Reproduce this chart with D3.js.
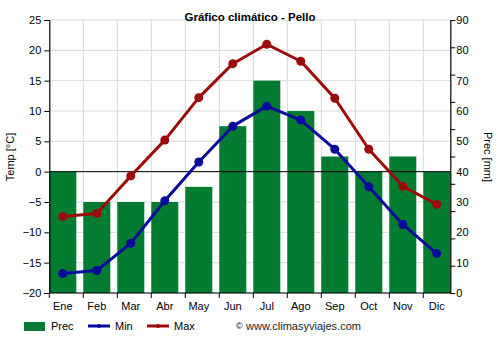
<!DOCTYPE html>
<html>
<head>
<meta charset="utf-8">
<script src="https://cdn.jsdelivr.net/npm/d3@7"></script>
<style>
  body { margin: 0; background: #fff; }
  svg { display: block; font-family: "Liberation Sans", Arial, sans-serif; }
</style>
</head>
<body>
<svg id="chart" width="500" height="350"></svg>
<script>
// Monthly climate data for Pello
const months = ["Ene","Feb","Mar","Abr","May","Jun","Jul","Ago","Sep","Oct","Nov","Dic"];
const precip = [40, 30, 30, 30, 35, 55, 70, 60, 45, 40, 45, 40];
const tempMin = [-16.8, -16.3, -11.8, -4.8, 1.6, 7.5, 10.8, 8.5, 3.7, -2.5, -8.7, -13.5];
const tempMax = [-7.4, -6.9, -0.7, 5.2, 12.2, 17.8, 21.0, 18.2, 12.1, 3.7, -2.4, -5.4];
const tempTicks = [-20, -15, -10, -5, 0, 5, 10, 15, 20, 25];
const precTicks = [0, 10, 20, 30, 40, 50, 60, 70, 80, 90];

const svg = d3.select("#chart");
const plotL = 49.3, plotR = 450.3, plotT = 20, plotB = 293;

const x = d3.scaleBand().domain(months).range([plotL, plotL + 12 * 34]).padding(0);
const barW = 27;
const cx = m => x(m) + barW / 2;
const yT = d3.scaleLinear().domain([-20, 25]).range([plotB, plotT]);
const yP = d3.scaleLinear().domain([0, 90]).range([plotB, plotT]);

const colPrec = "#037b30", colMin = "#0a0a9c", colMax = "#9c0a0a", grid = "#d9d9d9";

// grid
const g = svg.append("g");
g.selectAll("line.h").data(tempTicks).join("line")
  .attr("x1", plotL).attr("x2", plotR)
  .attr("y1", d => yT(d)).attr("y2", d => yT(d))
  .attr("stroke", grid).attr("stroke-width", 1);
g.selectAll("line.v").data(months.slice(1)).join("line")
  .attr("x1", d => x(d)).attr("x2", d => x(d))
  .attr("y1", plotT).attr("y2", plotB)
  .attr("stroke", grid).attr("stroke-width", 1);

// precipitation bars
svg.append("g").selectAll("rect").data(months).join("rect")
  .attr("x", m => x(m)).attr("width", barW)
  .attr("y", (m, i) => yP(precip[i]))
  .attr("height", (m, i) => plotB - yP(precip[i]))
  .attr("fill", colPrec);

// zero line
svg.append("line").attr("x1", plotL).attr("x2", plotR)
  .attr("y1", yT(0)).attr("y2", yT(0)).attr("stroke", "#000").attr("stroke-width", 1);

// temperature lines
function series(vals, color) {
  const line = d3.line().x((d, i) => cx(months[i])).y(d => yT(d));
  svg.append("path").datum(vals).attr("d", line)
    .attr("fill", "none").attr("stroke", color).attr("stroke-width", 3)
    .attr("stroke-linejoin", "round");
  svg.append("g").selectAll("circle").data(vals).join("circle")
    .attr("cx", (d, i) => cx(months[i])).attr("cy", d => yT(d))
    .attr("r", 4.5).attr("fill", color);
}
series(tempMin, colMin);
series(tempMax, colMax);

// axes
const fontSize = 11;
const axL = svg.append("g").attr("transform", `translate(${plotL},0)`)
  .call(d3.axisLeft(yT).tickValues(tempTicks).tickSize(5).tickPadding(3));
const axR = svg.append("g").attr("transform", `translate(${plotR},0)`)
  .call(d3.axisRight(yP).tickValues(precTicks).tickSize(0).tickPadding(6));
// right-side tick marks at ten equal divisions
const yR = d3.scaleLinear().domain([0, 10]).range([plotB, plotT]);
svg.append("g").attr("transform", `translate(${plotR},0)`)
  .call(d3.axisRight(yR).ticks(10).tickSize(5).tickFormat(""))
  .call(a => a.select(".domain").remove())
  .selectAll("line").attr("stroke", "#000");
const axB = svg.append("g").attr("transform", `translate(0,${plotB})`)
  .call(d3.axisBottom(x).tickSize(0).tickPadding(9));
// bottom tick marks at the band edges
svg.append("g").selectAll("line").data(months).join("line")
  .attr("x1", m => x(m)).attr("x2", m => x(m))
  .attr("y1", plotB).attr("y2", plotB + 5).attr("stroke", "#000");
axB.selectAll(".tick").attr("transform", m => `translate(${cx(m)},0)`);

[axL, axR, axB].forEach(a => {
  a.selectAll("text").attr("font-size", fontSize).attr("fill", "#000")
    .attr("font-family", "'Liberation Sans', Arial, sans-serif");
  a.selectAll(".domain").attr("stroke", "#000").attr("stroke-width", 1.2);
  a.selectAll(".tick line").attr("stroke", "#000");
});
axB.select(".domain").attr("d", `M${plotL},0H${plotR}`);

// titles
svg.append("text").attr("x", 250).attr("y", 21).attr("text-anchor", "middle")
  .attr("font-size", 11.5).attr("font-weight", "bold").text("Gráfico climático - Pello");
svg.append("text").attr("transform", "translate(14,157) rotate(-90)")
  .attr("text-anchor", "middle").attr("font-size", 11).text("Temp [°C]");
svg.append("text").attr("transform", "translate(484,157) rotate(90)")
  .attr("text-anchor", "middle").attr("font-size", 11).text("Prec [mm]");

// legend
const lg = svg.append("g").attr("font-size", 11);
lg.append("rect").attr("x", 24).attr("y", 322).attr("width", 21).attr("height", 9).attr("fill", colPrec);
lg.append("text").attr("x", 51).attr("y", 330).text("Prec");
[[88, colMin, "Min"], [147, colMax, "Max"]].forEach(([lx, c, t]) => {
  lg.append("line").attr("x1", lx).attr("x2", lx + 22).attr("y1", 326).attr("y2", 326)
    .attr("stroke", c).attr("stroke-width", 3);
  lg.append("circle").attr("cx", lx + 11).attr("cy", 326).attr("r", 2).attr("fill", c);
  lg.append("text").attr("x", lx + 27).attr("y", 330).text(t);
});
lg.append("text").attr("x", 236).attr("y", 329).attr("font-size", 9).text("©");
lg.append("text").attr("x", 246).attr("y", 330).attr("fill", "#222").text("www.climasyviajes.com");
</script>
</body>
</html>
